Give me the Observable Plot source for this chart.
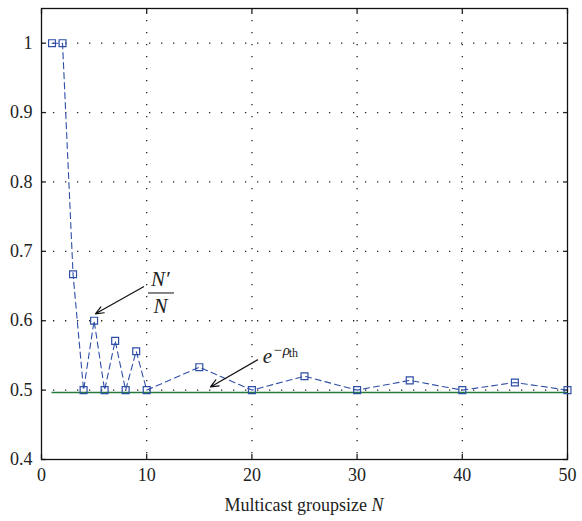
<!DOCTYPE html>
<html>
<head>
<meta charset="utf-8">
<script src="https://cdn.jsdelivr.net/npm/d3@7"></script>
<script src="https://cdn.jsdelivr.net/npm/@observablehq/plot@0.6"></script>
<style>
  html, body { margin: 0; padding: 0; background: #fff; }
  #chart svg { display: block; }
  #chart svg text { font-family: "Liberation Serif", "DejaVu Serif", serif; }
</style>
</head>
<body>
<div id="chart"></div>
<script>
// Multicast group sizes and the ratio N'/N for each
const groupSize = [1, 2, 3, 4, 5, 6, 7, 8, 9, 10, 15, 20, 25, 30, 35, 40, 45, 50];
const ratio = [1, 1, 0.667, 0.5, 0.6, 0.5, 0.571, 0.5, 0.556, 0.5, 0.533, 0.5, 0.52, 0.5, 0.514, 0.5, 0.511, 0.5];

// Threshold level e^{-rho_th}
const threshold = 0.4966;
const thresholdSpan = [1, 50];

const xTicks = [0, 10, 20, 30, 40, 50];
const yTicks = [0.4, 0.5, 0.6, 0.7, 0.8, 0.9, 1];
const xGrid = [10, 20, 30, 40];
const yGrid = [0.5, 0.6, 0.7, 0.8, 0.9, 1];

// Annotation anchors (data units)
const ratioArrow = [{x1: 9.70, y1: 0.649, x2: 5.13, y2: 0.610}];
const ratioNumerator = [{x: 11.3, y: 0.660, t: "N\u2032"}];
const ratioBar = [{y: 0.640, x1: 10.17, x2: 12.64}];
const ratioDenominator = [{x: 11.3, y: 0.6215, t: "N"}];
const threshArrow = [{x1: 20.53, y1: 0.5436, x2: 16.06, y2: 0.5046}];
const threshBase = [{x: 21.48, y: 0.549, t: "e"}];
const threshExp = [{x: 21.96, y: 0.557, t: "\u2212\u03c1"}];
const threshSub = [{x: 23.5, y: 0.553, t: "th"}];

const series = groupSize.map((n, i) => ({n, r: ratio[i]}));

const blue = "#2f4fa6";
const green = "#237a3c";
const ink = "#222";

const chart = Plot.plot({
  width: 582,
  height: 521,
  marginLeft: 41,
  marginRight: 15,
  marginTop: 8,
  marginBottom: 62,
  style: {fontSize: "18px", color: ink, background: "#fff"},
  x: {domain: [0, 50], ticks: xTicks},
  y: {domain: [0.4, 1.05], ticks: yTicks},
  marks: [
    // dotted grid
    Plot.ruleX(xGrid, {stroke: ink, strokeWidth: 1.3, strokeDasharray: "1.3,10.7"}),
    Plot.ruleY(yGrid, {x1: 0, x2: 50, stroke: ink, strokeWidth: 1.3, strokeDasharray: "1.3,10.7"}),
    // axes with inward ticks on all four sides
    Plot.axisX({ticks: xTicks, tickSize: -5, tickPadding: 14, tickFormat: d => String(d), fontSize: 18,
      label: null, strokeWidth: 1.3}),
    Plot.axisX({anchor: "top", ticks: xTicks, tickSize: -5, tickFormat: () => "", label: null, strokeWidth: 1.3}),
    Plot.axisY({ticks: yTicks, tickSize: -5, tickPadding: 14, tickFormat: d => String(d), fontSize: 18,
      label: null, strokeWidth: 1.3}),
    Plot.axisY({anchor: "right", ticks: yTicks, tickSize: -5, tickFormat: () => "", label: null, strokeWidth: 1.3}),
    Plot.frame({stroke: "#111", strokeWidth: 1.3}),
    // threshold line
    Plot.ruleY([threshold], {x1: thresholdSpan[0], x2: thresholdSpan[1], stroke: green, strokeWidth: 1.4}),
    // ratio series
    Plot.line(series, {x: "n", y: "r", stroke: blue, strokeWidth: 1.1, strokeDasharray: "6,4"}),
    Plot.dot(series, {x: "n", y: "r", symbol: "square", r: 3.9, stroke: blue, strokeWidth: 1.2, fill: "none"}),
    // annotations
    Plot.arrow(ratioArrow, {x1: "x1", y1: "y1", x2: "x2", y2: "y2", stroke: "#111", strokeWidth: 1.2, headLength: 11, headAngle: 45}),
    Plot.text(ratioNumerator, {x: "x", y: "y", text: "t", fontSize: 21, fontStyle: "italic", fill: ink}),
    Plot.ruleY(ratioBar, {y: "y", x1: "x1", x2: "x2", stroke: ink, strokeWidth: 1.1}),
    Plot.text(ratioDenominator, {x: "x", y: "y", text: "t", fontSize: 21, fontStyle: "italic", fill: ink}),
    Plot.arrow(threshArrow, {x1: "x1", y1: "y1", x2: "x2", y2: "y2", stroke: "#111", strokeWidth: 1.2, headLength: 11, headAngle: 45}),
    Plot.text(threshBase, {x: "x", y: "y", text: "t", fontSize: 21, fontStyle: "italic", fill: ink}),
    Plot.text(threshExp, {x: "x", y: "y", text: "t", fontSize: 15, fontStyle: "italic", textAnchor: "start", fill: ink}),
    Plot.text(threshSub, {x: "x", y: "y", text: "t", fontSize: 12, textAnchor: "start", fill: ink})
  ]
});

// x axis title with italic N
const svg = d3.select(chart);
const title = svg.append("text")
  .attr("x", 41 + (582 - 41 - 15) / 2)
  .attr("y", 511)
  .attr("text-anchor", "middle")
  .attr("font-size", 18)
  .attr("fill", ink);
title.append("tspan").text("Multicast groupsize ");
title.append("tspan").attr("font-style", "italic").text("N");

document.getElementById("chart").appendChild(chart);
</script>
</body>
</html>
